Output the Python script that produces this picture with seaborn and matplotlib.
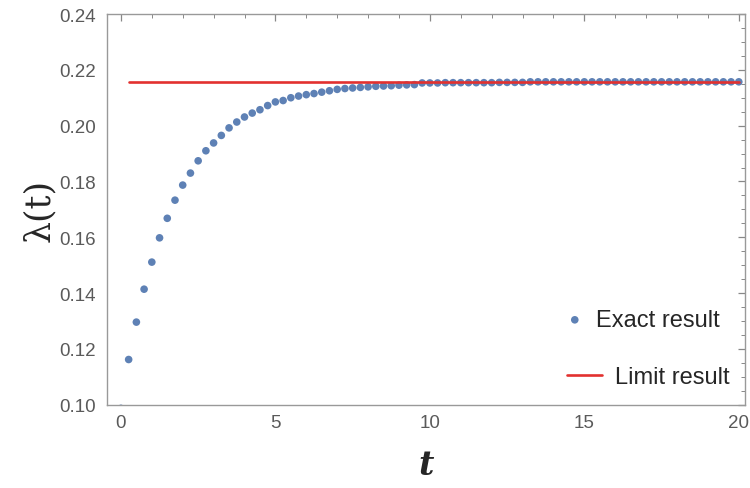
import numpy as np
import pandas as pd
import matplotlib.pyplot as plt
import seaborn as sns
from matplotlib.ticker import MultipleLocator

# Exact result, sampled every 0.25 in t
t_exact = [i * 0.25 for i in range(0, 81)]
lam_exact = [
    0.0987,
    0.1162, 0.1296, 0.1414, 0.1511, 0.1598, 0.1668, 0.1733, 0.1787,
    0.1830, 0.1874, 0.1910, 0.1938, 0.1965, 0.1992, 0.2013, 0.2031,
    0.2045, 0.2057, 0.2072, 0.2085, 0.2090, 0.2100, 0.2106, 0.2111,
    0.2115, 0.2120, 0.2125, 0.2130, 0.2133, 0.2135, 0.2137, 0.2139,
    0.2141, 0.2142, 0.2143, 0.2145, 0.2146, 0.2147, 0.2153, 0.2153,
    0.2153, 0.2154, 0.2154, 0.2154, 0.2154, 0.2154, 0.2154, 0.2154,
    0.2155, 0.2155, 0.2155, 0.2155, 0.2157, 0.2157, 0.2157, 0.2157,
    0.2157, 0.2157, 0.2157, 0.2157, 0.2157, 0.2157, 0.2157, 0.2157,
    0.2157, 0.2157, 0.2157, 0.2157, 0.2157, 0.2157, 0.2157, 0.2157,
    0.2157, 0.2157, 0.2157, 0.2157, 0.2157, 0.2157, 0.2157, 0.2157,
]

# Limit result
t_limit = [0.25, 20.0]
lam_limit = [0.2157, 0.2157]

exact_df = pd.DataFrame({"t": t_exact, "lam": lam_exact})
limit_df = pd.DataFrame({"t": t_limit, "lam": lam_limit})

sns.set_style("white")
plt.rcParams["font.family"] = ["Liberation Sans", "DejaVu Sans"]

fig = plt.figure(figsize=(7.5, 4.89), dpi=100)
ax = fig.add_axes([0.1427, 0.1703, 0.8506, 0.799])

sns.scatterplot(data=exact_df, x="t", y="lam", ax=ax, color="#5E81B5",
                s=30, edgecolor="none", label="Exact result", zorder=2)
sns.lineplot(data=limit_df, x="t", y="lam", ax=ax, color="#E2312F",
             linewidth=1.9, label="Limit result", zorder=3)

ax.set_xlim(-0.45, 20.2)
ax.set_ylim(0.10, 0.24)
ax.xaxis.set_major_locator(MultipleLocator(5))
ax.xaxis.set_minor_locator(MultipleLocator(1))
ax.yaxis.set_major_locator(MultipleLocator(0.02))
ax.yaxis.set_minor_locator(MultipleLocator(0.005))
ax.yaxis.set_major_formatter(plt.FuncFormatter(lambda v, p: f"{v:.2f}"))

ax.tick_params(which="both", direction="in", top=True, right=True,
               colors="#888888", labelcolor="#5a5a5a", labelsize=13.5)
ax.tick_params(which="major", length=5, width=0.9)
ax.tick_params(which="minor", length=2.8, width=0.7)
ax.tick_params(axis="x", which="both", pad=7)
ax.tick_params(axis="y", which="both", pad=8)
for sp in ax.spines.values():
    sp.set_color("#999999")
    sp.set_linewidth(1.0)

ax.set_xlabel("t", fontsize=24, fontstyle="italic", fontweight="bold",
              family=["DejaVu Serif"], labelpad=12)
ax.set_ylabel("λ(t)", fontsize=25, family=["DejaVu Serif"], labelpad=2)

# two separate legend entries, placed like the original
handles, labels = ax.get_legend_handles_labels()
leg1 = ax.legend([handles[0]], [labels[0]], loc="center left",
                 bbox_to_anchor=(0.7147, 0.2168), frameon=False, fontsize=17,
                 handlelength=1.0, handletextpad=0.4, borderpad=0,
                 borderaxespad=0)
ax.add_artist(leg1)
ax.legend([handles[1]], [labels[1]], loc="center left",
          bbox_to_anchor=(0.721, 0.0709), frameon=False, fontsize=17,
          handlelength=1.48, handletextpad=0.55, borderpad=0,
          borderaxespad=0)

fig.savefig("out.png", dpi=100)
